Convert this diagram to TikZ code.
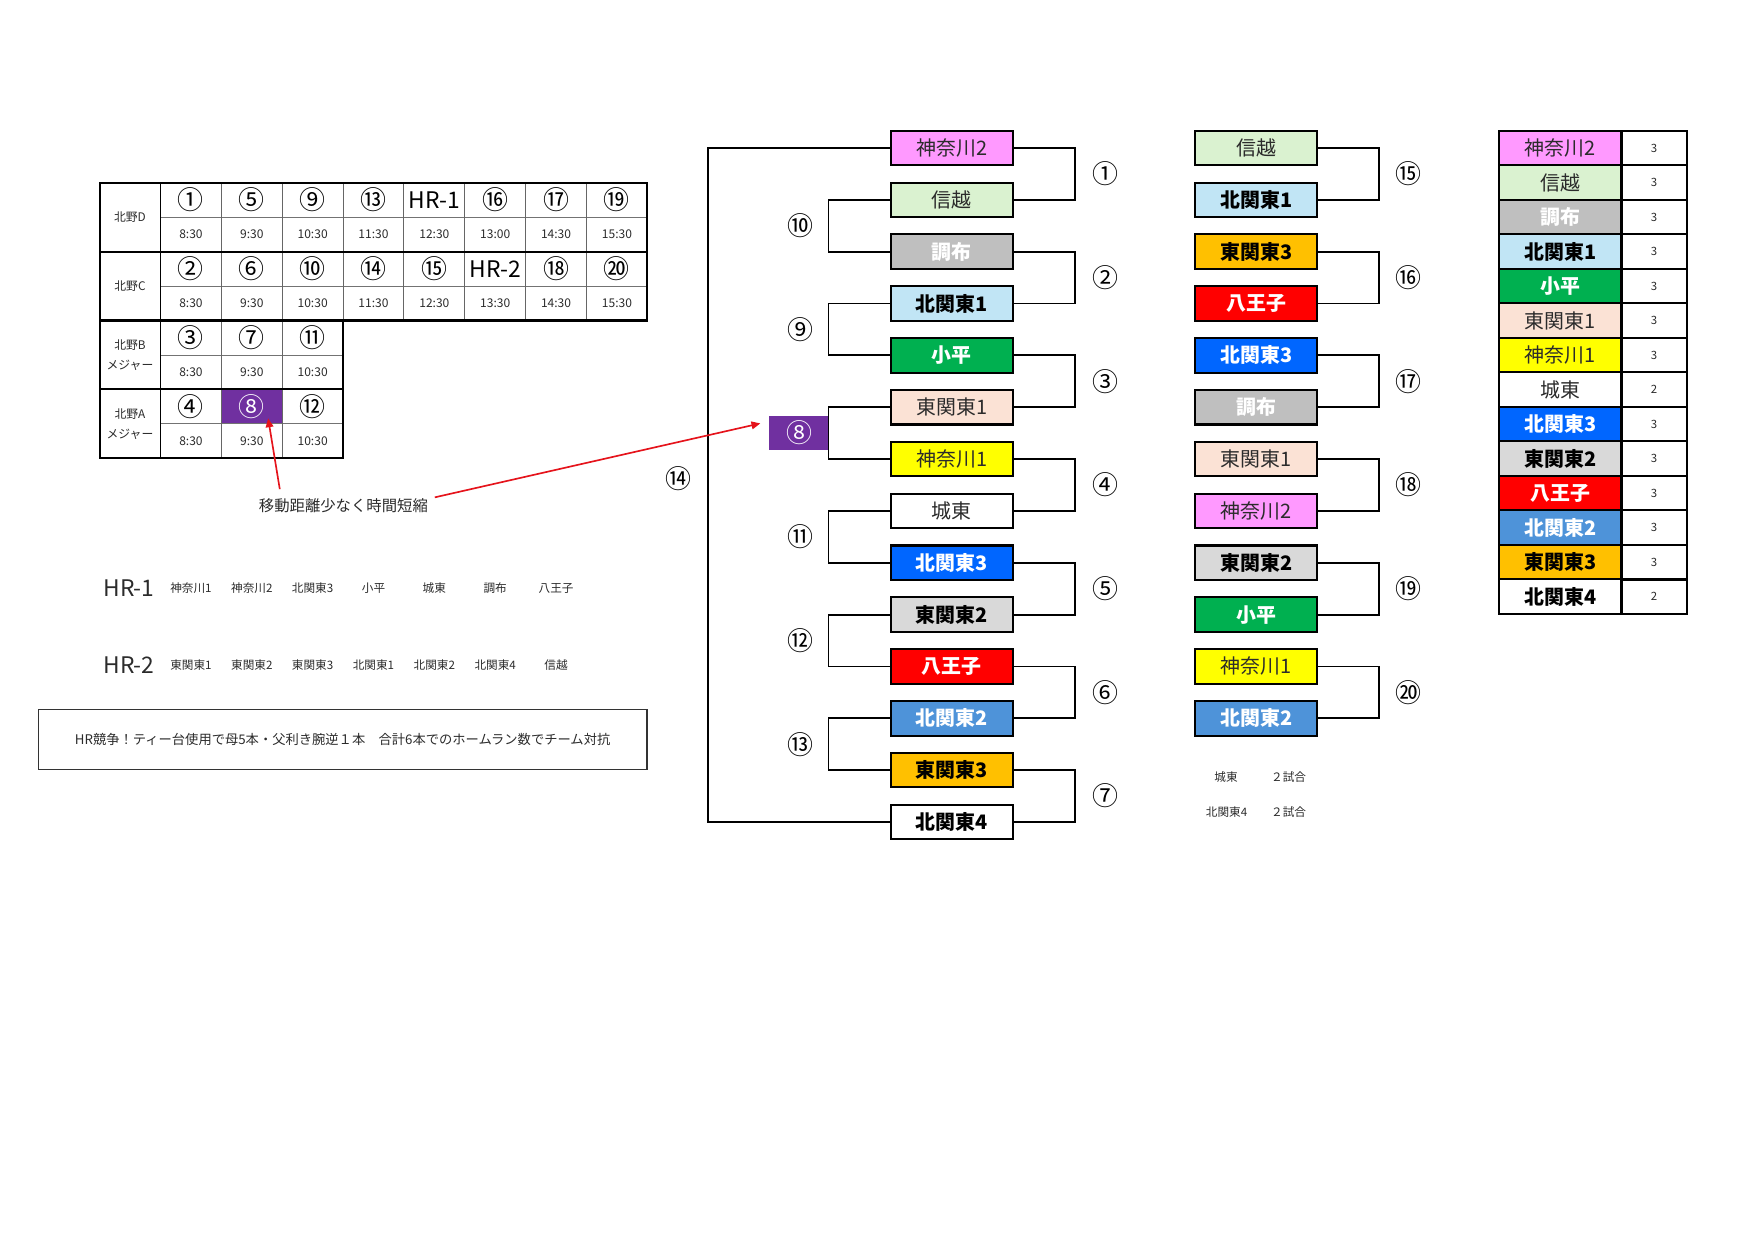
\documentclass[tikz,border=0pt]{standalone}
\usepackage{fontspec}
\setmainfont{Noto Sans CJK JP}
\usetikzlibrary{calc,arrows.meta}
\def\fsz#1#2{\fontsize{#1}{#2}\selectfont}

\definecolor{cKana2}{HTML}{FF99FF}
\definecolor{cShinetsu}{HTML}{DAF2D0}
\definecolor{cChofu}{HTML}{BFBFBF}
\definecolor{cKita1}{HTML}{C1E5F5}
\definecolor{cKodaira}{HTML}{00B050}
\definecolor{cHiga1}{HTML}{FBE2D5}
\definecolor{cKana1}{HTML}{FFFF00}
\definecolor{cKita3}{HTML}{0066FF}
\definecolor{cHiga2}{HTML}{D9D9D9}
\definecolor{cHachioji}{HTML}{FF0000}
\definecolor{cKita2}{HTML}{4E93D9}
\definecolor{cHiga3}{HTML}{FFC000}
\definecolor{cPurple}{HTML}{7030A0}
\definecolor{cText}{HTML}{2B2B2B}
\definecolor{cArrow}{HTML}{E5131B}

\tikzset{
  team/.style={draw=black, line width=1pt, minimum width=20.7mm, minimum height=5.85mm,
    inner sep=0pt, text=cText, font=\fsz{9.6}{10}},
  teamb/.style={team, text=black, font=\fsz{9.6}{10}\bfseries},
  teamw/.style={team, text=white, font=\fsz{9.6}{10}\bfseries},
  kanagawa2/.style={team, fill=cKana2},
  shinetsu/.style={team, fill=cShinetsu},
  chofu/.style={teamw, fill=cChofu},
  kita1/.style={teamb, fill=cKita1},
  kodaira/.style={teamw, fill=cKodaira},
  higashi1/.style={team, fill=cHiga1},
  kanagawa1/.style={team, fill=cKana1},
  joto/.style={team, fill=white},
  kita3/.style={teamw, fill=cKita3},
  higashi2/.style={teamb, fill=cHiga2},
  hachioji/.style={teamw, fill=cHachioji},
  kita2/.style={teamw, fill=cKita2},
  higashi3/.style={teamb, fill=cHiga3},
  kita4/.style={teamb, fill=white},
  games/.style={draw=black, line width=1pt, minimum width=11.08mm, minimum height=5.85mm,
    inner sep=0pt, text=cText, font=\fsz{5.5}{6}},
  bracket/.style={line width=0.9pt, black},
  round/.style={inner sep=0pt, text=black, font=\fsz{12.5}{13}},
  slot/.style={inner sep=0pt, text=black, font=\fsz{12.5}{13}},
  clock/.style={inner sep=0pt, text=cText, font=\fsz{5.8}{6}},
  field/.style={inner sep=0pt, text=cText, align=center, font=\fsz{5.7}{9.6}},
  small/.style={inner sep=0pt, text=cText, font=\fsz{5.6}{6}},
  redarrow/.style={cArrow, line width=0.8pt, -{Triangle[length=1.5mm,width=1.3mm]}},
}

\begin{document}
\begin{tikzpicture}[x=0.18941mm, y=-0.18941mm]
			%%%%% START %%%%%
			\useasboundingbox (0,0) rectangle (1568,1109.4);
			
			% schedule table
			\fill[cPurple] (197.9,348.1) rectangle (252.3,378.9);
			\draw[black!55, line width=0.4pt] (143.5,194.1) -- (578.7,194.1);
			\draw[black!55, line width=0.4pt] (143.5,255.7) -- (578.7,255.7);
			\draw[black!55, line width=0.4pt] (143.5,317.3) -- (306.7,317.3);
			\draw[black!55, line width=0.4pt] (143.5,378.9) -- (306.7,378.9);
			\foreach \k in {1,...,7}
			  \draw[black!60, line width=0.5pt] (143.5+54.4*\k,163.3) -- (143.5+54.4*\k,286.5);
			\foreach \k in {1,2}
			  \draw[black!60, line width=0.5pt] (143.5+54.4*\k,286.5) -- (143.5+54.4*\k,409.7);
			\draw[line width=0.7pt] (143.5,163.3) -- (143.5,409.7);
			\draw[line width=1pt] (89,224.9) -- (578.7,224.9);
			\draw[line width=1pt] (89,348.1) -- (306.7,348.1);
			\draw[line width=1pt] (89,163.3) -- (578.7,163.3) -- (578.7,286.5) -- (306.7,286.5)
			  -- (306.7,409.7) -- (89,409.7) -- cycle;
			\draw[line width=1pt] (89,286.5) -- (306.7,286.5);
			
			\node[field] (kd) at (116.2,194.1) {北野D};
			\node[field] (kc) at (116.2,255.7) {北野C};
			\node[field] (kb) at (116.2,317.3) {北野B\\メジャー};
			\node[field] (ka) at (116.2,378.9) {北野A\\メジャー};
			
			\foreach \t [count=\i] in {①,⑤,⑨,⑬,{\fsz{11}{12}HR-1},⑯,⑰,⑲}
			  \node[slot] (d\i) at (116.3+54.4*\i,178.7) {\t};
			\foreach \t [count=\i] in {8:30,9:30,10:30,11:30,12:30,13:00,14:30,15:30}
			  \node[clock] (dt\i) at (116.3+54.4*\i,209.5) {\t};
			\foreach \t [count=\i] in {②,⑥,⑩,⑭,⑮,{\fsz{11}{12}HR-2},⑱,⑳}
			  \node[slot] (c\i) at (116.3+54.4*\i,240.3) {\t};
			\foreach \t [count=\i] in {8:30,9:30,10:30,11:30,12:30,13:30,14:30,15:30}
			  \node[clock] (ct\i) at (116.3+54.4*\i,271.1) {\t};
			\foreach \t [count=\i] in {③,⑦,⑪}
			  \node[slot] (b\i) at (116.3+54.4*\i,301.9) {\t};
			\foreach \t [count=\i] in {8:30,9:30,10:30}
			  \node[clock] (bt\i) at (116.3+54.4*\i,332.7) {\t};
			\node[slot] (a1) at (170.7,363.5) {④};
			\node[slot, text=white] (a2) at (225.1,363.5) {⑧};
			\node[slot] (a3) at (279.5,363.5) {⑫};
			\foreach \t [count=\i] in {8:30,9:30,10:30}
			  \node[clock] (at\i) at (116.3+54.4*\i,394.3) {\t};
			
			% note with arrows
			\node[inner sep=0pt, text=cText, font=\fsz{7.4}{8}] (msg) at (307,452) {移動距離少なく時間短縮};
			
			% HR lists
			\node[inner sep=0pt, text=cText, font=\fsz{11}{12}] (hr1) at (115.3,526) {HR-1};
			\foreach \t [count=\i] in {神奈川1,神奈川2,北関東3,小平,城東,調布,八王子}
			  \node[small] (ha\i) at (116.3+54.4*\i,526) {\t};
			\node[inner sep=0pt, text=cText, font=\fsz{11}{12}] (hr2) at (115.3,594.5) {HR-2};
			\foreach \t [count=\i] in {東関東1,東関東2,東関東3,北関東1,北関東2,北関東4,信越}
			  \node[small] (hb\i) at (116.3+54.4*\i,594.5) {\t};
			
			\node[draw=black!80, line width=0.6pt, minimum width=103.1mm, minimum height=10.2mm,
			  inner sep=0pt, text=cText, font=\fsz{6.4}{7}] (rule) at (306.3,660.9)
			  {HR競争！ティー台使用で母5本・父利き腕逆１本　合計6本でのホームラン数でチーム対抗};
			
			% first bracket
			\node[kanagawa2] (L1) at (850.8,132.3) {神奈川2};
			\node[shinetsu] (L2) at (850.8,178.65) {信越};
			\node[chofu] (L3) at (850.8,225.0) {調布};
			\node[kita1] (L4) at (850.8,271.35) {北関東1};
			\node[kodaira] (L5) at (850.8,317.7) {小平};
			\node[higashi1] (L6) at (850.8,364.05) {東関東1};
			\node[kanagawa1] (L7) at (850.8,410.4) {神奈川1};
			\node[joto] (L8) at (850.8,456.75) {城東};
			\node[kita3] (L9) at (850.8,503.1) {北関東3};
			\node[higashi2] (L10) at (850.8,549.45) {東関東2};
			\node[hachioji] (L11) at (850.8,595.8) {八王子};
			\node[kita2] (L12) at (850.8,642.15) {北関東2};
			\node[higashi3] (L13) at (850.8,688.5) {東関東3};
			\node[kita4] (L14) at (850.8,734.85) {北関東4};
			
			\node[fill=cPurple, minimum width=10.2mm, minimum height=5.8mm, inner sep=0pt,
			  text=white, font=\fsz{12.5}{13}] (P8) at (714.5,387) {⑧};
			
			\draw[bracket] (L1.east) -- ++(54.4,0) |- (L2.east);
			\draw[bracket] (L3.east) -- ++(54.4,0) |- (L4.east);
			\draw[bracket] (L5.east) -- ++(54.4,0) |- (L6.east);
			\draw[bracket] (L7.east) -- ++(54.4,0) |- (L8.east);
			\draw[bracket] (L9.east) -- ++(54.4,0) |- (L10.east);
			\draw[bracket] (L11.east) -- ++(54.4,0) |- (L12.east);
			\draw[bracket] (L13.east) -- ++(54.4,0) |- (L14.east);
			
			\draw[bracket] (L2.west) -- ++(-54.6,0) |- (L3.west);
			\draw[bracket] (L4.west) -- ++(-54.6,0) |- (L5.west);
			\draw[bracket] (L6.west) -- ++(-54.6,0) |- (L7.west);
			\draw[bracket] (L8.west) -- ++(-54.6,0) |- (L9.west);
			\draw[bracket] (L10.west) -- ++(-54.6,0) |- (L11.west);
			\draw[bracket] (L12.west) -- ++(-54.6,0) |- (L13.west);
			\draw[bracket] (L1.west) -- ++(-162.7,0) |- (L14.west);
			
			\node[round] (r1) at (988,155.5) {①};
			\node[round] (r2) at (988,248.2) {②};
			\node[round] (r3) at (988,340.9) {③};
			\node[round] (r4) at (988,433.6) {④};
			\node[round] (r5) at (988,526.3) {⑤};
			\node[round] (r6) at (988,619.0) {⑥};
			\node[round] (r7) at (988,711.7) {⑦};
			\node[round] (r10) at (715.2,201.8) {⑩};
			\node[round] (r9) at (715.2,294.5) {⑨};
			\node[round] (r11) at (715.2,479.9) {⑪};
			\node[round] (r12) at (715.2,572.6) {⑫};
			\node[round] (r13) at (715.2,665.3) {⑬};
			\node[round] (r14) at (606.6,428) {⑭};
			
			\draw[redarrow] ($(msg.north west)+(19,-8)$) -- ($(a2.center)+(14.6,10.5)$);
			\draw[redarrow] ($(msg.east)+(5.8,-7.4)$) -- ($(P8.west)+(-7.5,-8.5)$);
			
			% second bracket
			\node[shinetsu] (M1) at (1123,132.3) {信越};
			\node[kita1] (M2) at (1123,178.65) {北関東1};
			\node[higashi3] (M3) at (1123,225.0) {東関東3};
			\node[hachioji] (M4) at (1123,271.35) {八王子};
			\node[kita3] (M5) at (1123,317.7) {北関東3};
			\node[chofu] (M6) at (1123,364.05) {調布};
			\node[higashi1] (M7) at (1123,410.4) {東関東1};
			\node[kanagawa2] (M8) at (1123,456.75) {神奈川2};
			\node[higashi2] (M9) at (1123,503.1) {東関東2};
			\node[kodaira] (M10) at (1123,549.45) {小平};
			\node[kanagawa1] (M11) at (1123,595.8) {神奈川1};
			\node[kita2] (M12) at (1123,642.15) {北関東2};
			
			\draw[bracket] (M1.east) -- ++(54.2,0) |- (M2.east);
			\draw[bracket] (M3.east) -- ++(54.2,0) |- (M4.east);
			\draw[bracket] (M5.east) -- ++(54.2,0) |- (M6.east);
			\draw[bracket] (M7.east) -- ++(54.2,0) |- (M8.east);
			\draw[bracket] (M9.east) -- ++(54.2,0) |- (M10.east);
			\draw[bracket] (M11.east) -- ++(54.2,0) |- (M12.east);
			
			\node[round] (r15) at (1259.4,155.5) {⑮};
			\node[round] (r16) at (1259.4,248.2) {⑯};
			\node[round] (r17) at (1259.4,340.9) {⑰};
			\node[round] (r18) at (1259.4,433.6) {⑱};
			\node[round] (r19) at (1259.4,526.3) {⑲};
			\node[round] (r20) at (1259.4,619.0) {⑳};
			
			\node[small] (nj) at (1096,695) {城東};
			\node[small] (njg) at (1152,695) {２試合};
			\node[small] (nk) at (1096.5,725.6) {北関東4};
			\node[small] (nkg) at (1152,725.6) {２試合};
			
			% games per team
			\node[kanagawa2] (G1) at (1394.9,132.2) {神奈川2};
			\node[shinetsu] (G2) at (1394.9,163.1) {信越};
			\node[chofu] (G3) at (1394.9,193.9) {調布};
			\node[kita1] (G4) at (1394.9,224.8) {北関東1};
			\node[kodaira] (G5) at (1394.9,255.7) {小平};
			\node[higashi1] (G6) at (1394.9,286.5) {東関東1};
			\node[kanagawa1] (G7) at (1394.9,317.4) {神奈川1};
			\node[joto] (G8) at (1394.9,348.2) {城東};
			\node[kita3] (G9) at (1394.9,379.1) {北関東3};
			\node[higashi2] (G10) at (1394.9,410.0) {東関東2};
			\node[hachioji] (G11) at (1394.9,440.8) {八王子};
			\node[kita2] (G12) at (1394.9,471.7) {北関東2};
			\node[higashi3] (G13) at (1394.9,502.5) {東関東3};
			\node[kita4] (G14) at (1394.9,533.4) {北関東4};
			\foreach \n [count=\i] in {3,3,3,3,3,3,3,2,3,3,3,3,3,2}
			  \node[games] (H\i) at (1478.6,101.4+30.86*\i) {\n};
			
			%%%%% END %%%%%
\end{tikzpicture}
\end{document}
